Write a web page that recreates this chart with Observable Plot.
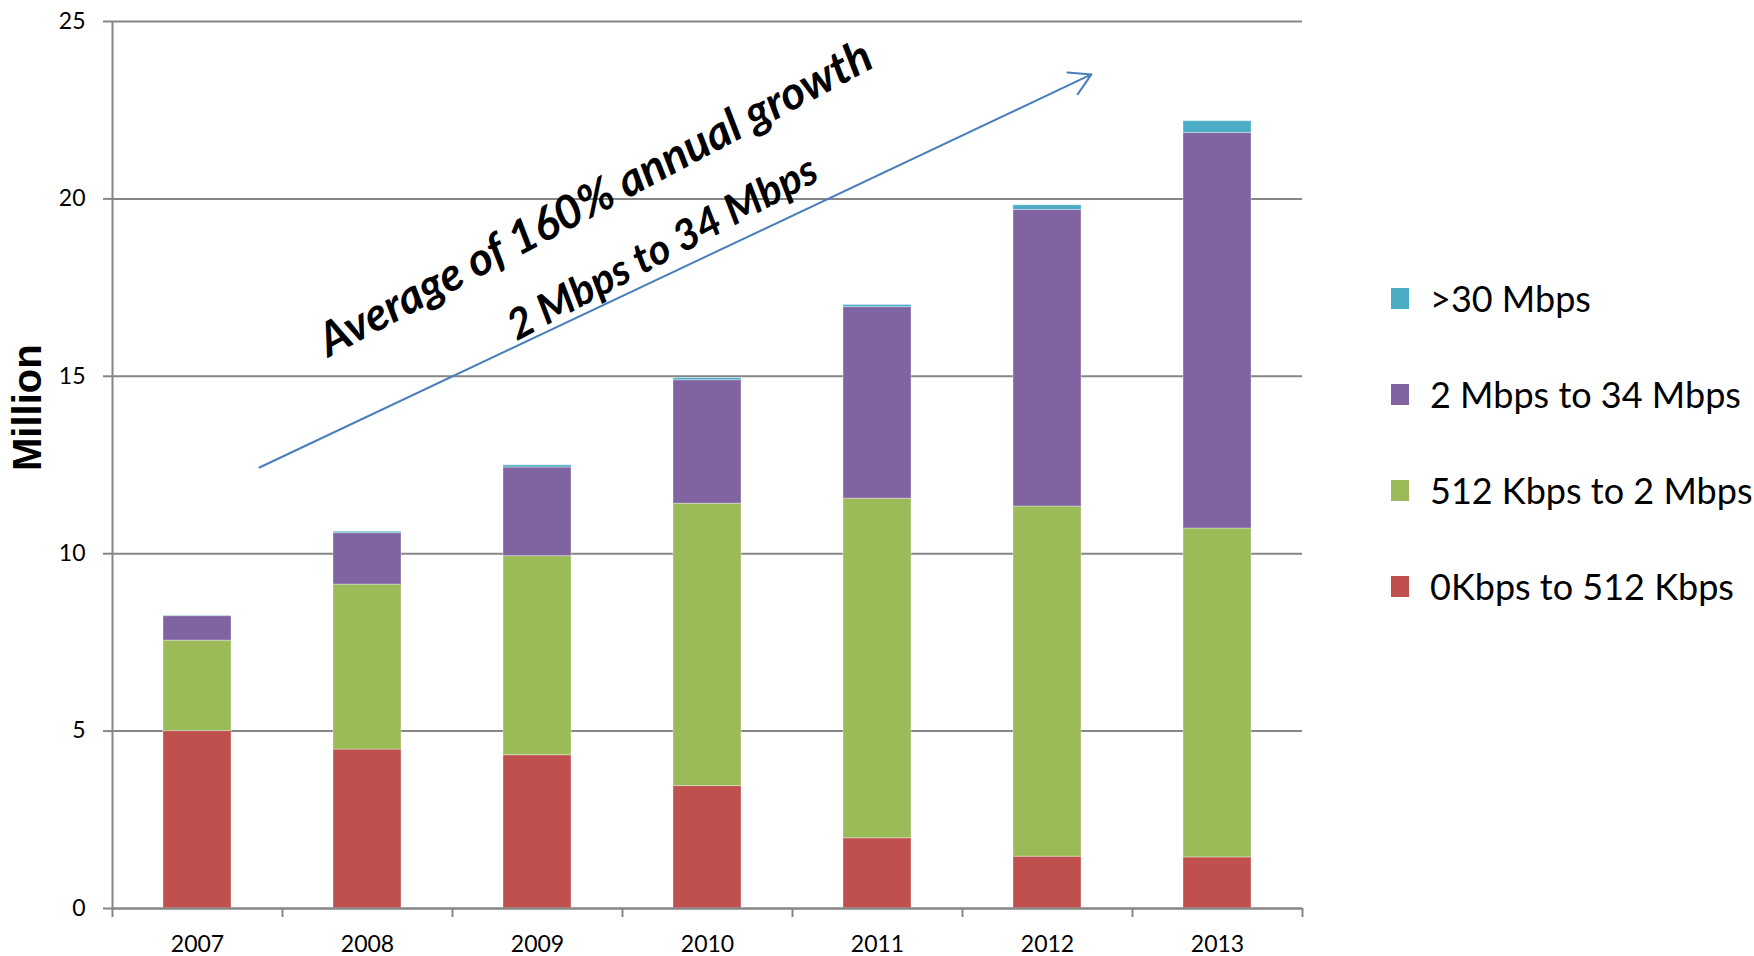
<!DOCTYPE html>
<html><head><meta charset="utf-8">
<script src="https://cdn.jsdelivr.net/npm/d3@7"></script>
<script src="https://cdn.jsdelivr.net/npm/@observablehq/plot@0.6"></script>
<style>
body{margin:0;background:#fff;}
#wrap{position:relative;width:1754px;height:956px;font-family:Lato, "Open Sans", sans-serif;}
#legend{position:absolute;left:1391px;top:0;}
.lg-row{position:absolute;left:0;display:flex;align-items:center;white-space:nowrap;font-size:36px;color:#000;}
.lg-sw{width:18px;height:21px;margin-right:21px;flex:none;}
</style></head><body><div id="wrap"></div>
<script>
// ---- data ----
const years = ["2007","2008","2009","2010","2011","2012","2013"];
const seriesNames = ["0Kbps to 512 Kbps","512 Kbps to 2 Mbps","2 Mbps to 34 Mbps",">30 Mbps"];
const seriesColors = ["#C0504D","#9BBB59","#8064A2","#4BACC6"];
const s0to512k  = [5.00, 4.48, 4.32, 3.45, 1.98, 1.46, 1.44];
const s512kto2m = [2.55, 4.65, 5.61, 7.96, 9.57, 9.87, 9.27];
const s2mto34m  = [0.69, 1.45, 2.50, 3.48, 5.40, 8.36, 11.15];
const sOver30m  = [0.01, 0.04, 0.06, 0.06, 0.06, 0.13, 0.33];
const yTicks = [0, 5, 10, 15, 20, 25];
const yLabel = "Million";
const annotationMain = "Average of 160% annual growth";
const annotationSub = "2 Mbps to 34 Mbps";
const arrowStart = {year: "2007", value: 12.43};
const arrowEnd = {year: "2012", value: 23.75};

const seriesValues = [s0to512k, s512kto2m, s2mto34m, sOver30m];
const table = [];
seriesNames.forEach((name, si) => {
  years.forEach((yr, i) => table.push({year: yr, series: name, value: seriesValues[si][i]}));
});

const gray = "#868686";
const W = 1754, H = 956;
const step = 170;

const chart = Plot.plot({
  width: W, height: H,
  marginLeft: 112, marginRight: 452, marginTop: 21, marginBottom: 48,
  style: {fontFamily: "Lato, 'Open Sans', sans-serif", background: "white", color: "#000"},
  x: {domain: years, paddingInner: 0.6, paddingOuter: 0.3},
  y: {domain: [0, 25]},
  color: {domain: seriesNames, range: seriesColors},
  marks: [
    Plot.gridY(yTicks, {stroke: gray, strokeOpacity: 1, strokeWidth: 2}),
    Plot.barY(table, {x: "year", y: "value", fill: "series", stroke: "white", strokeOpacity: 0.35, strokeWidth: 1}),
    Plot.ruleY([0], {stroke: gray, strokeWidth: 2}),
    Plot.ruleX([years[0]], {dx: -step/2, stroke: gray, strokeWidth: 2}),
    Plot.ruleX(years, {x: d => d, y1: 0, y2: 0, dx: -step/2, insetBottom: -9, stroke: gray, strokeWidth: 2}),
    Plot.ruleX([years[years.length-1]], {y1: 0, y2: 0, dx: step/2, insetBottom: -9, stroke: gray, strokeWidth: 2}),
    Plot.axisY({ticks: yTicks, tickSize: 9, tickPadding: 18, fontSize: 23, label: null, stroke: gray, strokeWidth: 2}),
    Plot.axisX({tickSize: 0, tickPadding: 27, fontSize: 23, label: null}),
    Plot.text([yLabel], {frameAnchor: "left", dx: -84, dy: 6, rotate: -90, fontSize: 40, fontWeight: "bold", fontFamily: "'Liberation Sans', Arial, sans-serif", fill: "#000"}),
    Plot.arrow([0], {x1: () => arrowStart.year, y1: () => arrowStart.value, x2: () => arrowEnd.year, y2: () => arrowEnd.value,
      dx: 62, insetEnd: 20, stroke: "#4A7EBB", strokeWidth: 2, headLength: 18, headAngle: 60}),
    Plot.text([annotationMain], {x: () => "2009", y: () => 20.0, dx: 58, rotate: -28, fontSize: 46, fontWeight: "bold", fontStyle: "italic", fill: "#000"}),
    Plot.text([annotationSub], {x: () => "2010", y: () => 18.6, dx: -45, rotate: -28, fontSize: 42, fontWeight: "bold", fontStyle: "italic", fill: "#000"})
  ]
});
const wrap = document.getElementById("wrap");
wrap.appendChild(chart);

// legend (top to bottom: reverse stacking order)
const legend = document.createElement("div");
legend.id = "legend";
const rowCenters = [298, 394, 490, 586];
[...seriesNames].reverse().forEach((name, i) => {
  const color = seriesColors[seriesNames.indexOf(name)];
  const row = document.createElement("div");
  row.className = "lg-row";
  row.style.top = (rowCenters[i] - 25) + "px";
  row.style.height = "50px";
  const sw = document.createElement("div");
  sw.className = "lg-sw";
  sw.style.background = color;
  const t = document.createElement("span");
  t.textContent = name;
  row.appendChild(sw); row.appendChild(t);
  legend.appendChild(row);
});
wrap.appendChild(legend);
</script>
</body></html>
